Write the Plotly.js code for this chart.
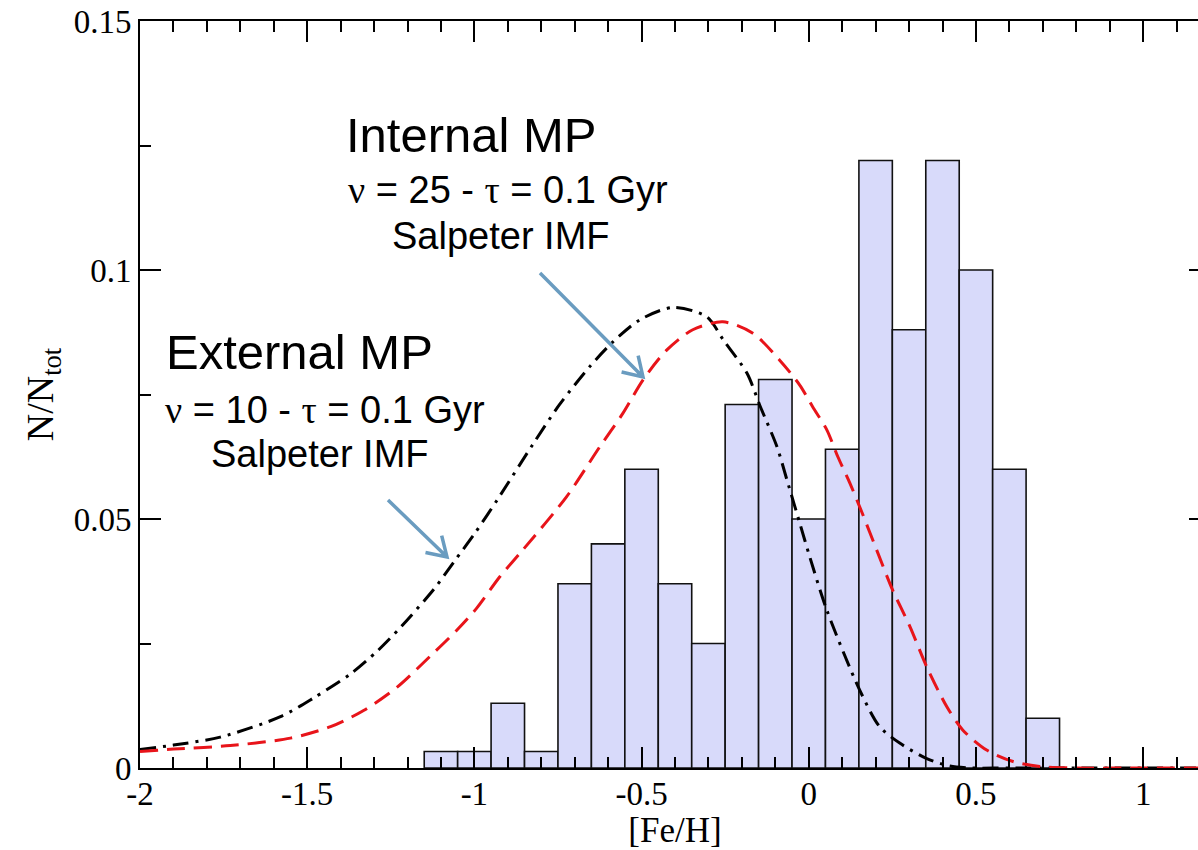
<!DOCTYPE html>
<html>
<head>
<meta charset="utf-8">
<script src="https://cdn.plot.ly/plotly-3.0.1.min.js"></script>
<style>
html,body{margin:0;padding:0;overflow:hidden;background:#fff;}
#chart{width:1240px;height:850px;}
</style>
</head>
<body>
<div id="chart"></div>
<script>
// ---- Data ----
const binCenters = [-1.1,-1.0,-0.9,-0.8,-0.7,-0.6,-0.5,-0.4,-0.3,-0.2,-0.1,0.0,0.1,0.2,0.3,0.4,0.5,0.6,0.7];
const binFractions = [0.0033,0.0033,0.013,0.0033,0.037,0.045,0.060,0.037,0.025,0.073,0.078,0.050,0.064,0.122,0.088,0.122,0.100,0.060,0.010];

const externalFeH = [-2.0,-1.90,-1.76,-1.58,-1.48,-1.37,-1.29,-1.22,-1.12,-1.06,-1.00,-0.93,-0.825,-0.745,-0.655,-0.585,-0.505,-0.405,-0.305,-0.255,-0.185,-0.145,-0.095,-0.065,-0.027,0.003,0.054,0.152,0.212,0.272,0.353,0.422,0.49,0.6,0.8,1.0,1.2];
const externalFrac = [0.0037,0.0046,0.0062,0.0103,0.0141,0.0189,0.0235,0.0283,0.0360,0.0415,0.0470,0.0540,0.0650,0.0730,0.0806,0.0856,0.0900,0.0925,0.0906,0.0859,0.0793,0.0726,0.0645,0.0578,0.0492,0.0424,0.0317,0.0157,0.0083,0.0050,0.0019,0.0004,0.0,0.0,0.0,0.0,0.0];

const internalFeH = [-2.0,-1.90,-1.73,-1.55,-1.43,-1.33,-1.23,-1.133,-1.052,-0.993,-0.924,-0.855,-0.724,-0.625,-0.556,-0.496,-0.425,-0.347,-0.257,-0.167,-0.087,-0.027,0.012,0.054,0.087,0.123,0.158,0.203,0.251,0.302,0.353,0.413,0.461,0.532,0.611,0.691,0.8,1.0,1.2];
const internalFrac = [0.0033,0.0038,0.0045,0.0060,0.0083,0.0116,0.0163,0.0224,0.0277,0.0321,0.0384,0.0438,0.0545,0.0645,0.0712,0.0779,0.0839,0.0880,0.0896,0.0873,0.0819,0.0769,0.0725,0.0679,0.0625,0.0572,0.0515,0.0438,0.0357,0.0285,0.0203,0.0123,0.0076,0.0036,0.0013,0.0003,0.0,0.0,0.0];

const xTickVals = [-2,-1.5,-1,-0.5,0,0.5,1];
const xTickText = ["-2","-1.5","-1","-0.5","0","0.5","1"];
const yTickVals = [0,0.05,0.1,0.15];
const yTickText = ["0","0.05","0.1","0.15"];

// ---- Layout geometry ----
const W = 1240, H = 850;
const M = {l:140, r:30, t:21, b:82};
const PW = W - M.l - M.r, PH = H - M.t - M.b;
function px(x){ return (x - M.l)/PW; }
function py(y){ return (H - M.b - y)/PH; }

const serif = '"Liberation Serif", "Times New Roman", serif';
const sans = '"Liberation Sans", Arial, sans-serif';
const arrowColor = '#6a9cc0';

function arrowShapes(x0,y0,x1,y1){
  const dx = x1-x0, dy = y1-y0, L = Math.hypot(dx,dy);
  const ux = -dx/L, uy = -dy/L;
  const arm = 22, ang = 32*Math.PI/180;
  const a1x = x1 + arm*(ux*Math.cos(ang) - uy*Math.sin(ang));
  const a1y = y1 + arm*(ux*Math.sin(ang) + uy*Math.cos(ang));
  const a2x = x1 + arm*(ux*Math.cos(-ang) - uy*Math.sin(-ang));
  const a2y = y1 + arm*(ux*Math.sin(-ang) + uy*Math.cos(-ang));
  const p = (x,y)=> px(x)+','+py(y);
  return [{type:'path', xref:'paper', yref:'paper',
    path:'M'+p(x0,y0)+' L'+p(x1,y1)+' M'+p(a1x,a1y)+' L'+p(x1,y1)+' L'+p(a2x,a2y),
    line:{color:arrowColor, width:3.5}}];
}

function label(text, x, y, size, font){
  return {text:text, xref:'paper', yref:'paper', x:px(x), y:py(y), xanchor:'left', yanchor:'middle',
    showarrow:false, font:{family:font||sans, size:size, color:'#000'}};
}
const gk = s => '<span style="font-family:\'Liberation Serif\'">'+s+'</span>';

const traces = [
  {type:'bar', x:binCenters, y:binFractions, width:0.1,
   marker:{color:'rgb(216,218,250)', line:{color:'#111', width:1.6}}, hoverinfo:'x+y', showlegend:false},
  {type:'scatter', mode:'lines', x:externalFeH, y:externalFrac, line:{color:'#000', width:3, dash:'16px,7px,3px,7px', shape:'spline', smoothing:0.8}, showlegend:false},
  {type:'scatter', mode:'lines', x:internalFeH, y:internalFrac, line:{color:'#e8141a', width:3, dash:'18px,9px', shape:'spline', smoothing:0.8}, showlegend:false}
];

const axisCommon = {
  showgrid:false, zeroline:false, showline:true, linecolor:'#000', linewidth:2,
  mirror:'ticks', ticks:'inside', ticklen:21, tickwidth:2, tickcolor:'#000',
  tickfont:{family:serif, size:33, color:'#000'}, tickmode:'array'
};

const layout = {
  width:W, height:H, margin:M, paper_bgcolor:'#fff', plot_bgcolor:'#fff',
  bargap:0, showlegend:false,
  xaxis:Object.assign({}, axisCommon, {
    range:[-2,1.2], tickvals:xTickVals, ticktext:xTickText, ticklabelstandoff:-5,
    minor:{tick0:0, dtick:0.1, ticks:'inside', ticklen:11, tickwidth:2, tickcolor:'#000'},
    title:{text:'[Fe/H]', font:{family:serif, size:35, color:'#000'}, standoff:5}
  }),
  yaxis:Object.assign({}, axisCommon, {
    range:[0,0.15], tickvals:yTickVals, ticktext:yTickText,
    minor:{tick0:0, dtick:0.025, ticks:'inside', ticklen:11, tickwidth:2, tickcolor:'#000'},
    title:{text:'N/N<sub>tot</sub>', font:{family:serif, size:38, color:'#000'}, standoff:8}
  }),
  annotations:[
    label('Internal MP', 344, 135, 49),
    label(gk('ν')+' = 25 - '+gk('τ')+' = 0.1 Gyr', 346, 190, 38),
    label('Salpeter IMF', 390, 236, 38),
    label('External MP', 164, 352, 49),
    label(gk('ν')+' = 10 - '+gk('τ')+' = 0.1 Gyr', 163, 410, 38),
    label('Salpeter IMF', 209, 454, 38)
  ],
  shapes:[].concat(arrowShapes(540,273,643,377), arrowShapes(388,500,447,557))
};

Plotly.newPlot('chart', traces, layout, {displayModeBar:false, staticPlot:true});
</script>
</body>
</html>
